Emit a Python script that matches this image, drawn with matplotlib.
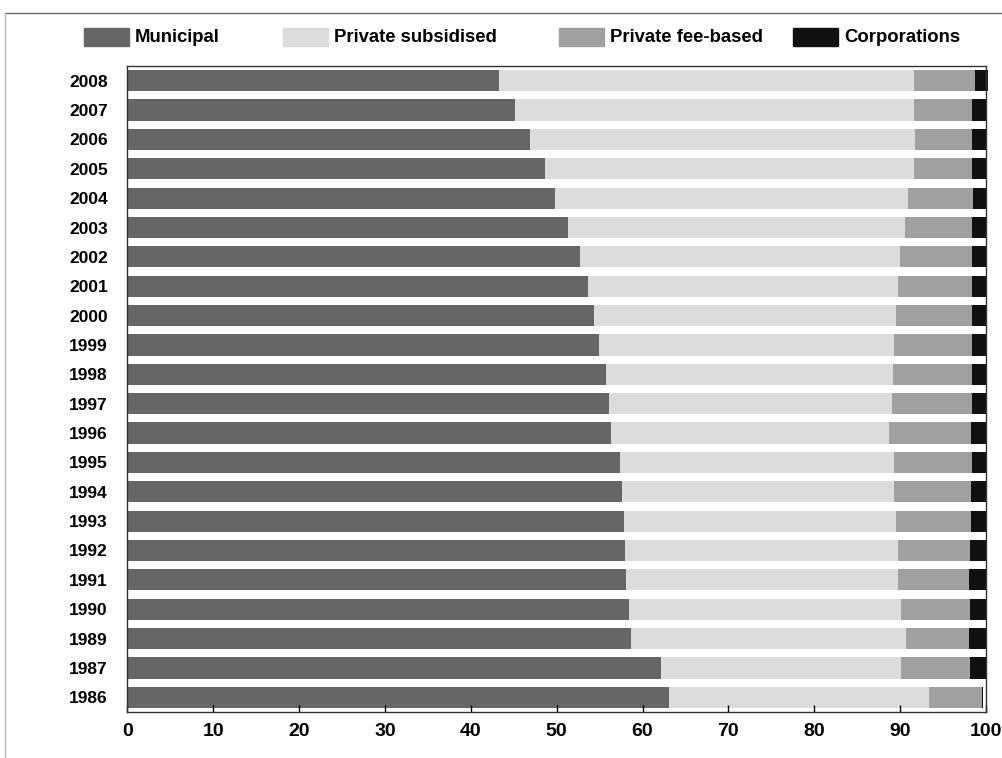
import numpy as np
import matplotlib
matplotlib.use("Agg")
import matplotlib.pyplot as plt
from matplotlib.patches import Rectangle
from matplotlib.lines import Line2D

plt.rcParams["font.family"] = ["Liberation Sans", "DejaVu Sans"]
plt.rcParams["font.weight"] = "bold"

# --- data (share of enrolment, %), top row first ---
years = ["2008", "2007", "2006", "2005", "2004", "2003", "2002", "2001", "2000",
         "1999", "1998", "1997", "1996", "1995", "1994", "1993", "1992", "1991",
         "1990", "1989", "1987", "1986"]
municipal = [43.3, 45.2, 46.9, 48.7, 49.8, 51.3, 52.7, 53.7, 54.3, 54.9, 55.7,
             56.1, 56.3, 57.4, 57.6, 57.8, 58.0, 58.1, 58.4, 58.7, 62.2, 63.1]
private_subsidised = [48.3, 46.4, 44.8, 42.9, 41.1, 39.3, 37.3, 36.0, 35.2, 34.4, 33.5,
                      32.9, 32.4, 31.9, 31.7, 31.7, 31.7, 31.6, 31.7, 32.0, 27.9, 30.3]
private_fee = [7.1, 6.8, 6.7, 6.8, 7.6, 7.8, 8.4, 8.7, 8.9, 9.1, 9.2,
               9.4, 9.5, 9.1, 8.9, 8.7, 8.4, 8.3, 8.0, 7.3, 8.0, 6.1]
corporations = [1.5, 1.6, 1.6, 1.6, 1.5, 1.6, 1.6, 1.6, 1.6, 1.6, 1.6,
                1.6, 1.8, 1.6, 1.8, 1.8, 1.9, 2.0, 1.9, 2.0, 1.9, 0.2]

series = ["Municipal", "Private subsidised", "Private fee-based", "Corporations"]
colors = ["#666666", "#dcdcdc", "#a0a0a0", "#111111"]
values = [municipal, private_subsidised, private_fee, corporations]

W, H = 1002, 758
fig = plt.figure(figsize=(W / 100, H / 100), dpi=100)
ax = fig.add_axes([127.3 / W, 1 - 712 / H, (986 - 127.3) / W, (712 - 66) / H])

y = np.arange(len(years))
left = np.zeros(len(years))
for name, col, vals in zip(series, colors, values):
    ax.barh(y, vals, left=left, height=0.72, color=col, edgecolor="none",
            label=name, clip_on=False)
    left += np.array(vals)

ax.set_ylim(len(years) - 0.5, -0.5)
ax.set_xlim(0, 100)
ax.set_yticks(y)
ax.set_yticklabels(years, fontsize=12.5, fontweight="bold")
ax.set_xticks(np.arange(0, 101, 10))
ax.tick_params(axis="x", direction="in", length=5, width=1, labelsize=14, pad=8)
ax.tick_params(axis="y", length=0, pad=14)
for s in ax.spines.values():
    s.set_color("#333333")
    s.set_linewidth(1)

# legend laid out along the top, as in the original
leg_x = [84, 283, 559, 793]
for name, col, x0 in zip(series, colors, leg_x):
    fig.patches.append(Rectangle((x0 / W, 1 - 46 / H), 45 / W, 18 / H,
                                 transform=fig.transFigure, color=col))
    fig.text((x0 + 51) / W, 1 - 37 / H, name, fontsize=13.3, fontweight="bold",
             va="center", ha="left")

# outer frame (only top and left visible)
fig.lines.append(Line2D([5 / W, 1], [1 - 13 / H, 1 - 13 / H], transform=fig.transFigure,
                        color="#666666", lw=1))
fig.lines.append(Line2D([5 / W, 5 / W], [0, 1 - 13 / H], transform=fig.transFigure,
                        color="#bbbbbb", lw=1))

fig.savefig("out.png", dpi=100)
